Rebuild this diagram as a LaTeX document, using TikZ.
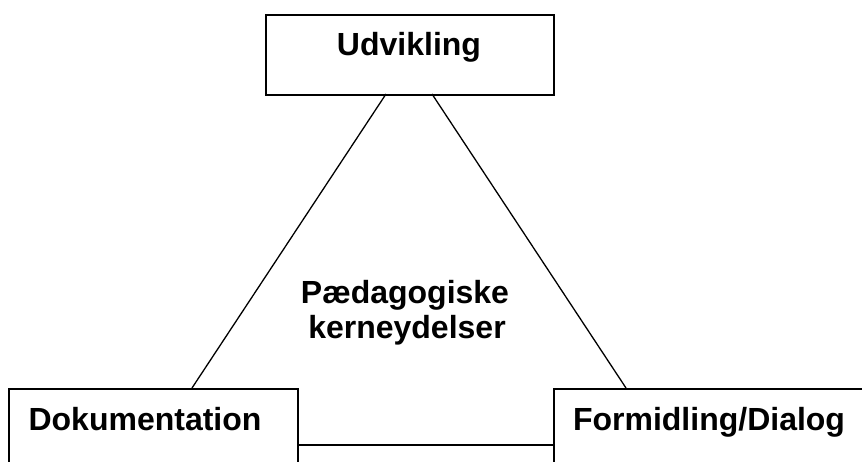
\documentclass[tikz,border=0pt]{standalone}
\usepackage{fontspec}
\setmainfont{Liberation Sans}
\begin{document}
\begin{tikzpicture}[x=1pt,y=-1pt,
  box/.style={draw=black,line width=1.8pt,fill=white,inner sep=0pt,anchor=north west},
  lbl/.style={font=\bfseries\fontsize{32}{35}\selectfont,anchor=base,inner sep=0pt},
  conn/.style={draw=black,line width=1.3pt}]
\useasboundingbox (0,0) rectangle (862,461);
\clip (0,0) rectangle (862,461);
% boxes
\node[box,minimum width=288pt,minimum height=80pt] (udbox) at (265,14) {};
\node[box,minimum width=289pt,minimum height=100pt] (dokbox) at (8,388) {};
\node[box,minimum width=330pt,minimum height=100pt] (forbox) at (553,388) {};
% attachment points
\coordinate (udL) at (386,94);
\coordinate (udR) at (432,94);
\coordinate (dokT) at (192,388);
\coordinate (forT) at (626,388);
\coordinate (dokR) at (297,445);
\coordinate (forL) at (553,445);
% connectors
\draw[conn] (udL) -- (dokT);
\draw[conn] (udR) -- (forT);
\draw[conn] (dokR) -- (forL);
% labels
\node[lbl] (ud) at (409,55) {Udvikling};
\node[lbl] (dok) at (145,430) {Dokumentation};
\node[lbl] (for) at (709,430) {Formidling/Dialog};
\node[lbl] (ped1) at (405,303) {Pædagogiske};
\node[lbl] (ped2) at (407,338) {kerneydelser};
\end{tikzpicture}
\end{document}
